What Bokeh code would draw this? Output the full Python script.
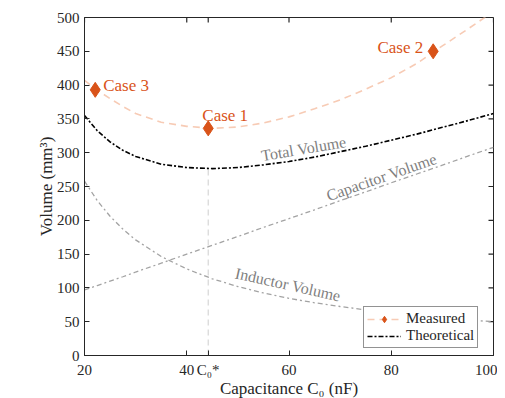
from bokeh.plotting import figure
from bokeh.models import Range1d, FixedTicker, Label, Legend, LegendItem
from bokeh.embed import file_html
from bokeh.resources import INLINE
import math

# ---- data ----
capacitance = [20, 22.5, 25, 27.5, 30, 35, 40, 45, 50, 55, 60, 65, 70, 75, 80, 85, 90, 95, 100]
inductor_volume = [258, 229, 206, 187, 171, 146.5, 128, 113.5, 102, 92.5, 84.5, 78, 72.5, 67.5, 63, 59, 56, 52.5, 50]
capacitor_volume = [97, 103.5, 110, 116.5, 123.5, 136.5, 150, 163, 176, 189.5, 202.5, 215.5, 229, 242, 255.5, 268.5, 281.5, 295, 308]
total_volume = [355, 332.5, 316, 303.5, 294.5, 283, 278, 276.5, 278, 282, 287, 293.5, 301.5, 309.5, 318.5, 327.5, 337.5, 347.5, 358]
measured_fit = [407, 392.5, 380, 368.5, 358, 345, 339, 336, 338, 344, 353, 365, 378, 394, 411, 432, 458, 483, 509]
case_names = ["Case 3", "Case 1", "Case 2"]
case_c = [22.1, 44.2, 88.2]
case_v = [393, 336, 450]
c_opt = 44.2
c_opt_label = "C\u2080*"
v_opt = 276
x_ticks = [20, 40, 60, 80, 100]
y_ticks = [0, 50, 100, 150, 200, 250, 300, 350, 400, 450, 500]
x_min, x_max = 20, 100
y_min, y_max = 0, 500

FONT = "Liberation Serif"
AXIS_COLOR = "#262626"
ORANGE = "#D95319"
SALMON = "#F7CBB5"
GRAY_LINE = "#A3A3A3"
GRAY_TEXT = "#7F7F7F"

FRAME_W, FRAME_H, TICK_LEN = 409, 338, 5

p = figure(width=497, height=396, output_backend="svg", toolbar_location=None,
           x_range=Range1d(x_min, x_max), y_range=Range1d(y_min, y_max),
           frame_width=FRAME_W, frame_height=FRAME_H,
           min_border_left=84, min_border_right=4, min_border_top=17, min_border_bottom=41)
p.outline_line_color = AXIS_COLOR
p.outline_line_width = 1
p.outline_line_alpha = 1
p.xgrid.visible = False
p.ygrid.visible = False
p.background_fill_color = "white"
p.border_fill_color = "white"

all_x_ticks = sorted(x_ticks + [c_opt])
overrides = {t: str(t) for t in x_ticks}
overrides[c_opt] = c_opt_label

def style_axis(ax):
    ax.axis_line_color = AXIS_COLOR
    ax.axis_line_width = 1
    ax.major_tick_line_color = AXIS_COLOR
    ax.major_tick_in = TICK_LEN
    ax.major_tick_out = 0
    ax.minor_tick_line_color = None
    ax.major_label_text_font = FONT
    ax.major_label_text_font_size = "15px"
    ax.major_label_text_color = AXIS_COLOR
    ax.axis_label_text_font = FONT
    ax.axis_label_text_font_size = "17px"
    ax.axis_label_text_font_style = "normal"
    ax.axis_label_text_color = AXIS_COLOR

xa = p.xaxis[0]
xa.ticker = FixedTicker(ticks=all_x_ticks)
xa.major_label_overrides = overrides
xa.axis_label = "Capacitance C\u2080 (nF)"
style_axis(xa)
xa.major_label_standoff = 6
xa.axis_label_standoff = -2

ya = p.yaxis[0]
ya.ticker = FixedTicker(ticks=y_ticks)
ya.axis_label = "Volume (mm\u00b3)"
style_axis(ya)
ya.major_label_standoff = 5
ya.axis_label_standoff = -2

# mirrored inward ticks on top and right edges
dy_tick = TICK_LEN * (y_max - y_min) / FRAME_H
dx_tick = TICK_LEN * (x_max - x_min) / FRAME_W
p.segment(x0=all_x_ticks, y0=[y_max] * len(all_x_ticks),
          x1=all_x_ticks, y1=[y_max - dy_tick] * len(all_x_ticks),
          line_color=AXIS_COLOR, line_width=1.2)
p.segment(x0=[x_max] * len(y_ticks), y0=y_ticks,
          x1=[x_max - dx_tick] * len(y_ticks), y1=y_ticks,
          line_color=AXIS_COLOR, line_width=1.2)

# vertical marker at optimum
p.line([c_opt, c_opt], [y_min, v_opt], line_color="#D6D6D6", line_width=1.2, line_dash="6 4")

# component curves
p.line(capacitance, inductor_volume, line_color=GRAY_LINE, line_width=1.3, line_dash="5 3 2 3")
p.line(capacitance, capacitor_volume, line_color=GRAY_LINE, line_width=1.3, line_dash="5 3 2 3")

meas_line = p.line(capacitance, measured_fit, line_color=SALMON, line_width=1.6, line_dash="7 5")
theo_line = p.line(capacitance, total_volume, line_color="black", line_width=1.6, line_dash="5 2 2 2")
meas_pts = p.scatter(case_c, case_v, marker="diamond", size=15, fill_color=ORANGE, line_color=ORANGE)

# case labels
offsets = {"Case 3": (8, 4, "left"), "Case 1": (17, 13, "center"), "Case 2": (-10, 4, "right")}
for name, cx, cy in zip(case_names, case_c, case_v):
    dx, dy, al = offsets[name]
    p.add_layout(Label(x=cx, y=cy, text=name, x_offset=dx, y_offset=dy, text_align=al,
                       text_baseline="middle", text_font=FONT, text_font_size="17px",
                       text_color=ORANGE))

# curve labels
for txt, lx, ly, ang in [("Total Volume", 62.9, 306, 9.5),
                         ("Capacitor Volume", 78.1, 264, 19.2),
                         ("Inductor Volume", 59.8, 105, -12.6)]:
    p.add_layout(Label(x=lx, y=ly, text=txt, angle=math.radians(ang), text_align="center",
                       text_baseline="middle", text_font=FONT, text_font_size="16px",
                       text_color=GRAY_TEXT))

legend = Legend(items=[LegendItem(label="Measured", renderers=[meas_line, meas_pts]),
                       LegendItem(label="Theoretical", renderers=[theo_line])],
                location=(279, 7), orientation="vertical")
legend.label_text_font = FONT
legend.label_text_font_size = "15px"
legend.label_text_color = AXIS_COLOR
legend.border_line_color = AXIS_COLOR
legend.border_line_width = 1
legend.background_fill_color = "white"
legend.background_fill_alpha = 1
legend.padding = 3
legend.spacing = 0
legend.margin = 0
legend.glyph_width = 34
legend.glyph_height = 16
legend.label_height = 16
legend.label_standoff = 5
p.add_layout(legend, "center")

open("out.html", "w").write(file_html(p, INLINE))
